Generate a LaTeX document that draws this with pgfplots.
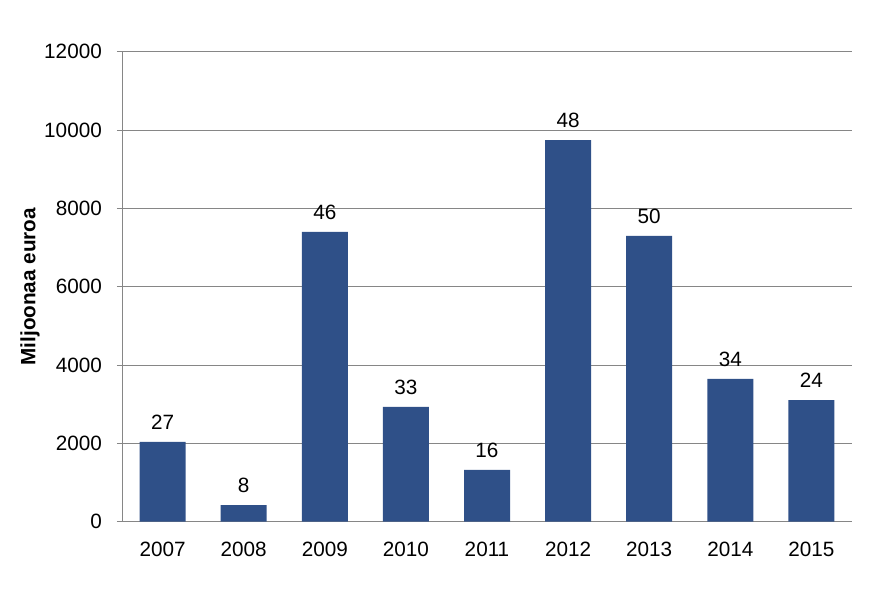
\documentclass[border=0pt]{standalone}
\usepackage{fontspec}
\setmainfont{Liberation Sans}
\usepackage{pgfplots}
\usepackage{pgfplotstable}
\pgfplotsset{compat=1.18}
\definecolor{barblue}{RGB}{47,80,136}
\definecolor{gridgray}{RGB}{134,134,134}
\pgfplotstableread{
x y lab
0 2040 27
1 426 8
2 7400 46
3 2930 33
4 1320 16
5 9745 48
6 7295 50
7 3645 34
8 3105 24
}\datatable
\begin{document}
\begin{tikzpicture}[font=\fontsize{20.7bp}{24bp}\selectfont]
\useasboundingbox (-122bp,-78.3bp) rectangle (758bp,521.7bp);
\begin{axis}[
  at={(0,0)}, anchor=south west,
  scale only axis, width=730bp, height=470bp,
  xmin=-0.5, xmax=8.5, ymin=0, ymax=12000,
  axis x line*=bottom, axis y line*=left,
  axis line style={gridgray, line width=0.9bp},
  xtick={0,...,8},
  xticklabels={2007,2008,2009,2010,2011,2012,2013,2014,2015},
  x tick style={draw=none},
  ytick={0,2000,...,12000},
  y tick style={gridgray, line width=0.9bp},
  tick align=outside, major tick length=5bp,
  ymajorgrids, grid style={gridgray, line width=0.9bp},
  /pgf/number format/assume math mode=true,
  scaled y ticks=false,
  yticklabel style={/pgf/number format/1000 sep={}, inner sep=0pt, xshift=-15bp},
  xticklabel style={inner sep=0pt, yshift=-15bp},
  ylabel={\bfseries Miljoonaa euroa},
  ylabel style={at={(axis description cs:-0.126,0.5)}, anchor=center, inner sep=0pt},
  nodes near coords,
  point meta=explicit symbolic,
  every node near coord/.style={anchor=south, inner sep=0pt, yshift=12bp, black},
]
\addplot[ybar, bar width=46bp, fill=barblue, draw=none] table[x=x, y=y, meta=lab] {\datatable};
\end{axis}
\end{tikzpicture}
\end{document}
